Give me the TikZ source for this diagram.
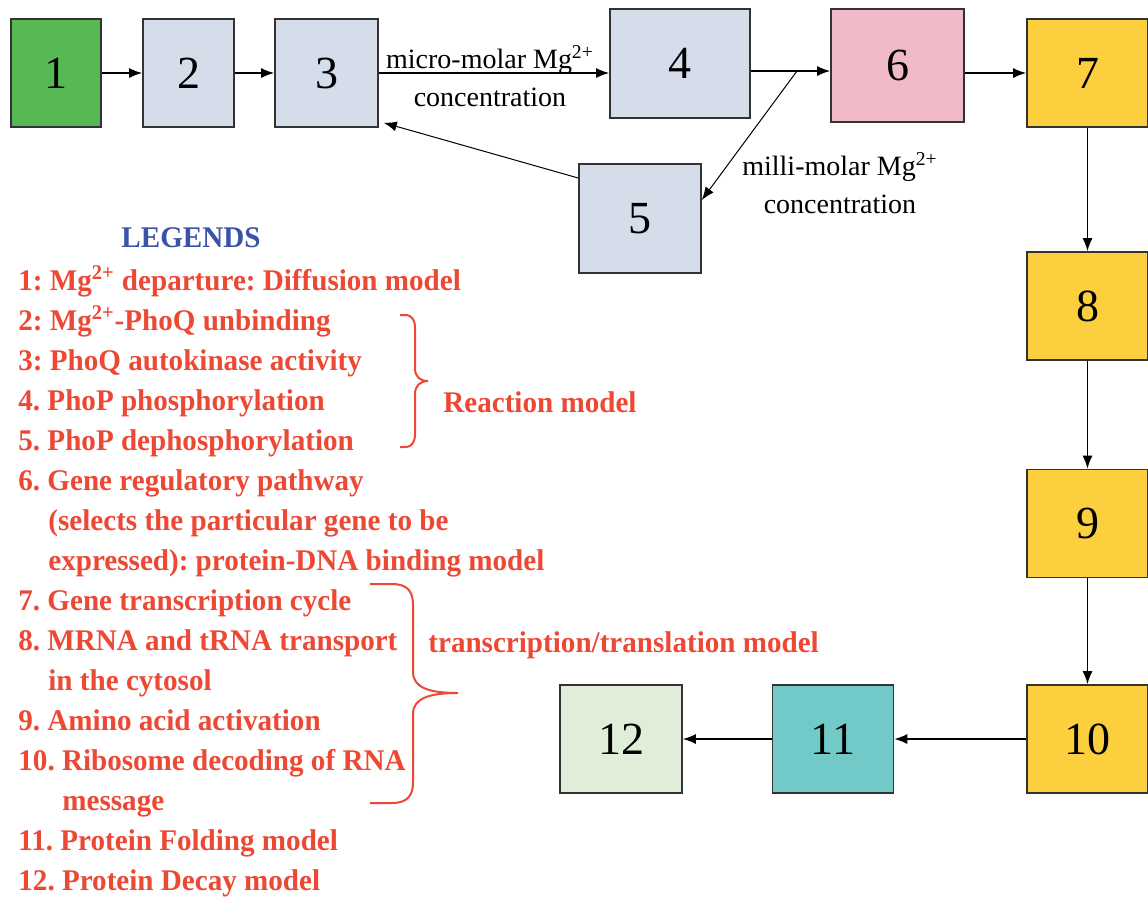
\documentclass[tikz,border=0pt]{standalone}
\usepackage{fontspec}
\setmainfont{Liberation Serif}
\newfontfamily\legfont{Liberation Serif}[FakeStretch=0.97]
\usetikzlibrary{arrows.meta}
\frenchspacing

\definecolor{boxgreen}{RGB}{86,185,86}
\definecolor{boxgrey}{RGB}{213,220,234}
\definecolor{boxpink}{RGB}{240,186,200}
\definecolor{boxyellow}{RGB}{252,207,62}
\definecolor{boxteal}{RGB}{113,202,200}
\definecolor{boxmint}{RGB}{224,237,217}
\definecolor{legred}{RGB}{236,72,52}
\definecolor{legblue}{RGB}{58,82,168}

\begin{document}
\begin{tikzpicture}[x=0.5pt, y=-0.5pt,
    blk/.style={draw=black!80, line width=0.8pt, inner sep=0pt, font=\fontsize{23}{26}\selectfont},
    lab/.style={align=center, inner sep=0pt, font=\fontsize{14}{19}\selectfont},
    leg/.style={anchor=base west, inner sep=0pt, text=legred, font=\legfont\fontsize{15}{18}\selectfont\bfseries},
    brc/.style={draw=legred, line width=1pt},
    >={Latex[length=6.5pt,width=5pt]}]
    \useasboundingbox (0,0) rectangle (1148,902);

    % top row
    \node[blk, fill=boxgreen, minimum width=45pt, minimum height=54pt] (b1) at (56,73) {1};
    \node[blk, fill=boxgrey, minimum width=45.5pt, minimum height=54pt] (b2) at (188.5,73) {2};
    \node[blk, fill=boxgrey, minimum width=51.5pt, minimum height=54pt] (b3) at (326.5,73) {3};
    \node[blk, fill=boxgrey, minimum width=70pt, minimum height=54.5pt] (b4) at (680,63.5) {4};
    \node[blk, fill=boxgrey, minimum width=61pt, minimum height=54.5pt] (b5) at (640,218.5) {5};
    \node[blk, fill=boxpink, minimum width=66.5pt, minimum height=56.5pt] (b6) at (897.5,65.5) {6};

    % right column and bottom row
    \node[blk, fill=boxyellow, minimum width=60.5pt, minimum height=54pt] (b7) at (1087.5,73) {7};
    \node[blk, fill=boxyellow, minimum width=60.5pt, minimum height=54pt] (b8) at (1087.5,306) {8};
    \node[blk, fill=boxyellow, minimum width=60.5pt, minimum height=54pt] (b9) at (1087.5,523.5) {9};
    \node[blk, fill=boxyellow, minimum width=60.5pt, minimum height=54pt] (b10) at (1087.5,739) {10};
    \node[blk, fill=boxteal, minimum width=60.5pt, minimum height=54pt] (b11) at (833,739) {11};
    \node[blk, fill=boxmint, minimum width=61pt, minimum height=54pt] (b12) at (621,739) {12};

    % connectors
    \draw[->, line width=0.75pt] (b1) -- (b2);
    \draw[->, line width=0.75pt] (b2) -- (b3);
    \draw[->, line width=0.75pt] (b3.east) -- (b3.east -| b4.west);
    \coordinate (split) at (797,71);
    \draw[->, line width=0.75pt] (b4.east |- split) -- (b6.west |- split);
    \draw[->, line width=0.5pt] (split) -- ([yshift=9.25pt]b5.east);
    \draw[->, line width=0.5pt] ([yshift=20.25pt]b5.west) -- ([xshift=2.5pt,yshift=2.5pt]b3.south east);
    \draw[->, line width=0.75pt] (b6.east |- b7.west) -- (b7.west);
    \draw[->, line width=0.75pt] (b7) -- (b8);
    \draw[->, line width=0.75pt] (b8) -- (b9);
    \draw[->, line width=0.75pt] (b9) -- (b10);
    \draw[->, line width=0.75pt] (b10) -- (b11);
    \draw[->, line width=0.75pt] (b11) -- (b12);

    % edge labels
    \node[lab] (micro) at (490,76) {micro-molar Mg\textsuperscript{2+}\\concentration};
    \node[lab] (milli) at (840,183) {milli-molar Mg\textsuperscript{2+}\\concentration};

    % legend
    \node[anchor=base, inner sep=0pt, text=legblue, font=\legfont\fontsize{15}{18}\selectfont\bfseries] (legtitle) at (191,247) {LEGENDS};
    \foreach \x/\t [count=\i] in {
        18/{1: Mg\textsuperscript{2+} departure: Diffusion model},
        18/{2: Mg\textsuperscript{2+}-PhoQ unbinding},
        18/{3: PhoQ autokinase activity},
        18/{4. PhoP phosphorylation},
        18/{5. PhoP dephosphorylation},
        18/{6. Gene regulatory pathway},
        48/{(selects the particular gene to be},
        48/{expressed): protein-DNA binding model},
        18/{7. Gene transcription cycle},
        18/{8. MRNA and tRNA transport},
        48/{in the cytosol},
        18/{9. Amino acid activation},
        18/{10. Ribosome decoding of RNA},
        62/{message},
        18/{11. Protein Folding model},
        18/{12. Protein Decay model}}
        \node[leg] (lg\i) at (\x,{250+40*\i}) {\t};

    % braces
    \draw[brc] (400,315) -- (405,315) .. controls (412,315) and (415,320) .. (415,328) -- (415,368)
        .. controls (415,377) and (420,381) .. (428,381) .. controls (420,381) and (415,386) .. (415,394)
        -- (415,434) .. controls (415,442) and (412,447) .. (405,447) -- (400,447);
    \node[leg] (react) at (443,412) {Reaction model};
    \draw[brc] (370,584) -- (392,584) .. controls (408,584) and (413,592) .. (413,605) -- (413,672)
        .. controls (413,688) and (430,693) .. (458,693) .. controls (430,693) and (413,698) .. (413,714)
        -- (413,782) .. controls (413,795) and (408,803) .. (392,803) -- (370,803);
    \node[leg] (trans) at (428,652) {transcription/translation model};
\end{tikzpicture}
\end{document}
